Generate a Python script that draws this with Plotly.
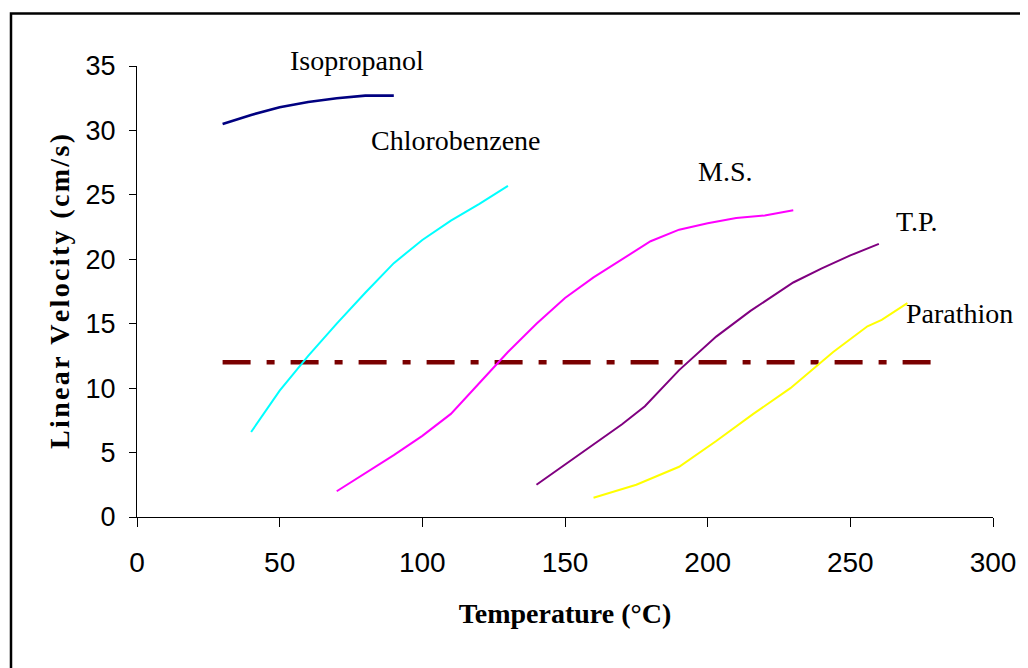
import plotly.graph_objects as go

# ---- data ----
iso_T = [30, 40, 50, 60, 70, 80, 90]
iso_V = [30.5, 31.2, 31.8, 32.2, 32.5, 32.7, 32.7]

chl_T = [40, 50, 60, 70, 80, 90, 100, 110, 120, 130]
chl_V = [6.6, 9.8, 12.5, 15.0, 17.4, 19.7, 21.5, 23.0, 24.3, 25.7]

ms_T = [70, 80, 90, 100, 110, 120, 130, 140, 150, 160, 170, 180, 190, 200, 210, 220, 230]
ms_V = [2.0, 3.4, 4.8, 6.3, 8.0, 10.4, 12.8, 15.0, 17.0, 18.6, 20.0, 21.4, 22.3, 22.8, 23.2, 23.4, 23.8]

tp_T = [140, 154, 170, 178, 190, 203, 215, 230, 240, 250, 260]
tp_V = [2.5, 4.7, 7.2, 8.6, 11.4, 14.0, 16.0, 18.2, 19.3, 20.3, 21.2]

par_T = [160, 175, 190, 203, 216, 229, 244, 256, 261, 266, 270]
par_V = [1.5, 2.5, 3.9, 5.9, 8.0, 10.0, 12.8, 14.8, 15.3, 16.0, 16.6]

ref_T = [30, 280]
ref_V = [12, 12]

label_text = ["Isopropanol", "Chlorobenzene", "M.S.", "T.P.", "Parathion"]
label_T = [77, 111.7, 206, 273.3, 288.4]
label_V = [34.5, 29.2, 26.8, 22.9, 15.8]
label_shift = [12, 0, 0, 0, 0]

x_ticks = [0, 50, 100, 150, 200, 250, 300]
y_ticks = [0, 5, 10, 15, 20, 25, 30, 35]

series = [
    ("Isopropanol", iso_T, iso_V, "#000080", 2.6),
    ("Chlorobenzene", chl_T, chl_V, "#00FFFF", 2),
    ("M.S.", ms_T, ms_V, "#FF00FF", 2),
    ("T.P.", tp_T, tp_V, "#800080", 2),
    ("Parathion", par_T, par_V, "#FFFF00", 2),
]

fig = go.Figure()
fig.add_trace(go.Scatter(x=ref_T, y=ref_V, mode="lines", name="ref",
                         line=dict(color="#7A0000", width=4.5, dash="28px,16px,8px,16px")))
for name, xs, ys, col, w in series:
    fig.add_trace(go.Scatter(x=xs, y=ys, mode="lines", name=name,
                             line=dict(color=col, width=w)))

for t, xv, yv, sh in zip(label_text, label_T, label_V, label_shift):
    fig.add_annotation(x=xv, y=yv, xref="x", yref="y", text=t, showarrow=False,
                       xanchor="center", yanchor="middle", yshift=sh,
                       font=dict(family="Liberation Serif, Times New Roman, serif", size=28, color="black"))

ytitle = "\u200a".join("Linear Velocity (cm/s)")

# the page body has an 8px margin, so the figure is 8px smaller on each side
fig.update_layout(
    width=1020, height=660,
    margin=dict(l=129, r=35, t=58, b=151),
    paper_bgcolor="white", plot_bgcolor="white",
    showlegend=False,
    xaxis=dict(range=[0, 300], tickvals=x_ticks, showgrid=False, zeroline=False,
               showline=True, linecolor="black", linewidth=1,
               ticks="outside", ticklen=9, tickcolor="black", ticklabelstandoff=11,
               tickfont=dict(family="Liberation Sans, Arial, sans-serif", size=28, color="black"),
               title=dict(text="Temperature (°C)", standoff=26,
                          font=dict(family="Liberation Serif, Times New Roman, serif", size=28,
                                    color="black", weight="bold"))),
    yaxis=dict(range=[0, 35], tickvals=y_ticks, showgrid=False, zeroline=False,
               showline=True, linecolor="black", linewidth=1,
               ticks="outside", ticklen=7, tickcolor="black", ticklabelstandoff=8,
               tickfont=dict(family="Liberation Sans, Arial, sans-serif", size=27, color="black"),
               title=dict(text=ytitle, standoff=7,
                          font=dict(family="Liberation Serif, Times New Roman, serif", size=28,
                                    color="black", weight="bold"))),
)

fig.add_shape(type="rect", xref="paper", yref="paper",
              x0=-0.1472, x1=1.06, y0=-0.37, y1=1.1164,
              line=dict(color="black", width=2.5), fillcolor="rgba(0,0,0,0)", layer="below")

fig.write_html("out.html")
